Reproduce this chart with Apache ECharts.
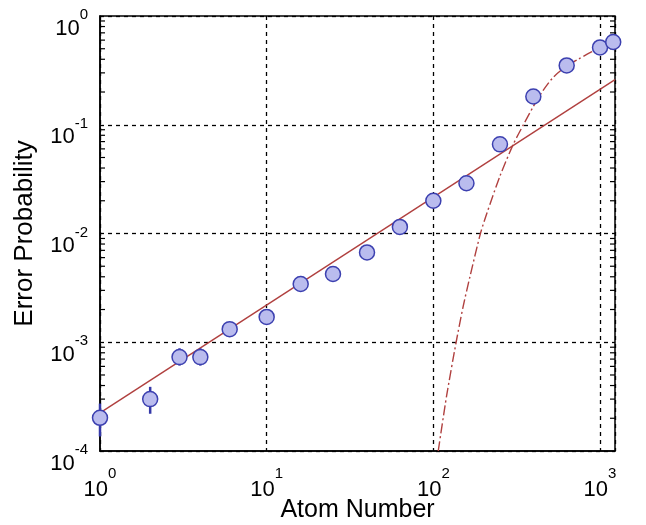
<!DOCTYPE html>
<html>
<head>
<meta charset="utf-8">
<script src="https://cdn.jsdelivr.net/npm/echarts@6/dist/echarts.min.js"></script>
<style>
  html, body { margin: 0; padding: 0; background: #fff; }
  #chart { width: 646px; height: 525px; }
</style>
</head>
<body>
<div id="chart"></div>
<script>
// Measured error probability versus atom number
const atomNumber = [1, 2, 3, 4, 6, 10, 16, 25, 40, 63, 100, 158, 251, 398, 631, 1000, 1200];
const errorProb  = [2.02e-4, 3.0e-4, 7.3e-4, 7.3e-4, 1.32e-3, 1.71e-3, 3.43e-3, 4.24e-3,
                    6.7e-3, 1.15e-2, 2.0e-2, 2.9e-2, 6.6e-2, 0.182, 0.351, 0.514, 0.577];

// Error bars that reach outside the markers: [atom number, low, high]
const errAtom = [1, 2, 3, 4, 16];
const errLow  = [1.36e-4, 2.20e-4, 6.1e-4, 6.1e-4, 2.94e-3];
const errHigh = [2.73e-4, 3.89e-4, 8.8e-4, 8.8e-4, 4.07e-3];

// Linear scaling fit (straight line on log-log axes)
const fitAtom = [1, 1230];
const fitProb = [2.24e-4, 0.26];

// Threshold model curve
const modelAtom = [107, 120, 137, 151, 166, 192, 209, 251, 302, 347, 398, 457, 525, 617, 741, 871, 1000, 1202];
const modelProb = [1.0e-4, 3.19e-4, 1.0e-3, 2.14e-3, 4.04e-3, 1.01e-2, 1.52e-2, 3.37e-2, 6.63e-2,
                   0.100, 0.147, 0.208, 0.274, 0.338, 0.401, 0.460, 0.508, 0.568];

// Axis ranges
const xMin = 1, xMax = 1230;
const yMin = 1e-4, yMax = 1;
const minorMultipliers = [2, 3, 4, 5, 6, 7, 8, 9];
const yDecades = [-4, -3, -2, -1];

const FONT = '"Liberation Sans", Arial, sans-serif';

const zip = (a, b) => a.map((v, i) => [v, b[i]]);

const minorTickValues = [];
yDecades.forEach(d => minorMultipliers.forEach(m => minorTickValues.push(m * Math.pow(10, d))));

function powerLabel(v) {
  const lg = Math.log10(v);
  const e = Math.round(lg);
  if (Math.abs(lg - e) > 0.01) return '';
  return '{b|10}{e|' + e + '}';
}

// "10" with a raised exponent
function powRich(lineH) {
  return {
    b: { fontSize: 22, fontFamily: FONT, color: '#000', lineHeight: lineH, verticalAlign: 'bottom' },
    e: { fontSize: 15, fontFamily: FONT, color: '#000', lineHeight: 16, verticalAlign: 'top' }
  };
}

const chart = echarts.init(document.getElementById('chart'), null, { renderer: 'canvas' });

chart.setOption({
  animation: false,
  backgroundColor: '#fff',
  grid: {
    left: 100, top: 16, right: 31, bottom: 74,
    containLabel: false,
    outerBoundsMode: 'none',
    show: true, borderColor: '#000', borderWidth: 1.5, backgroundColor: 'transparent'
  },
  xAxis: {
    type: 'log', logBase: 10, min: xMin, max: xMax,
    name: 'Atom Number', nameLocation: 'middle', nameGap: 47, nameMoveOverlap: false,
    nameTextStyle: { fontSize: 25, fontFamily: FONT, color: '#000' },
    axisLine: { show: true, lineStyle: { color: '#000', width: 1.5 } },
    axisTick: { show: false },
    minorTick: { show: false },
    axisLabel: { margin: 15, formatter: powerLabel, rich: powRich(35), showMaxLabel: true },
    splitLine: { show: true, lineStyle: { color: '#000', width: 1.3, type: [4, 4] } }
  },
  yAxis: {
    type: 'log', logBase: 10, min: yMin, max: yMax,
    name: 'Error Probability', nameLocation: 'middle', nameGap: 62, nameMoveOverlap: false,
    nameTextStyle: { fontSize: 26, fontFamily: FONT, color: '#000' },
    axisLine: { show: true, lineStyle: { color: '#000', width: 1.5 } },
    axisTick: { show: false },
    minorTick: { show: false },
    axisLabel: { margin: 12, formatter: powerLabel, rich: powRich(32), padding: [15, 0, 0, 0] },
    splitLine: { show: true, lineStyle: { color: '#000', width: 1.3, type: [4, 4] } }
  },
  series: [
    {
      // minor log ticks on the left and right frame
      type: 'custom',
      silent: true,
      z: 3,
      data: minorTickValues.map(v => [xMin, v]),
      renderItem: function (params, api) {
        const v = api.value(1);
        const l = api.coord([xMin, v]);
        const r = api.coord([xMax, v]);
        const style = { stroke: '#000', lineWidth: 1.2 };
        return {
          type: 'group',
          children: [
            { type: 'line', shape: { x1: l[0], y1: l[1], x2: l[0] + 5, y2: l[1] }, style: style },
            { type: 'line', shape: { x1: r[0], y1: r[1], x2: r[0] - 5, y2: r[1] }, style: style }
          ]
        };
      }
    },
    {
      name: 'fit',
      type: 'line',
      data: zip(fitAtom, fitProb),
      showSymbol: false,
      z: 4,
      lineStyle: { color: '#b0403f', width: 1.4 }
    },
    {
      name: 'model',
      type: 'line',
      data: zip(modelAtom, modelProb),
      showSymbol: false,
      smooth: 0.25,
      z: 4,
      lineStyle: { color: '#b0403f', width: 1.4, type: [10, 3, 2, 3] }
    },
    {
      name: 'errors',
      type: 'custom',
      z: 5,
      data: errAtom.map((x, i) => [x, errLow[i], errHigh[i]]),
      renderItem: function (params, api) {
        const a = api.coord([api.value(0), api.value(1)]);
        const b = api.coord([api.value(0), api.value(2)]);
        return {
          type: 'line',
          shape: { x1: a[0], y1: a[1], x2: b[0], y2: b[1] },
          style: { stroke: '#3438a8', lineWidth: 2.5 }
        };
      }
    },
    {
      name: 'data',
      type: 'scatter',
      data: zip(atomNumber, errorProb),
      symbol: 'circle',
      symbolSize: 15,
      z: 6,
      itemStyle: { color: '#babcee', borderColor: '#3c40b0', borderWidth: 1.5, opacity: 1 }
    }
  ]
});
</script>
</body>
</html>
